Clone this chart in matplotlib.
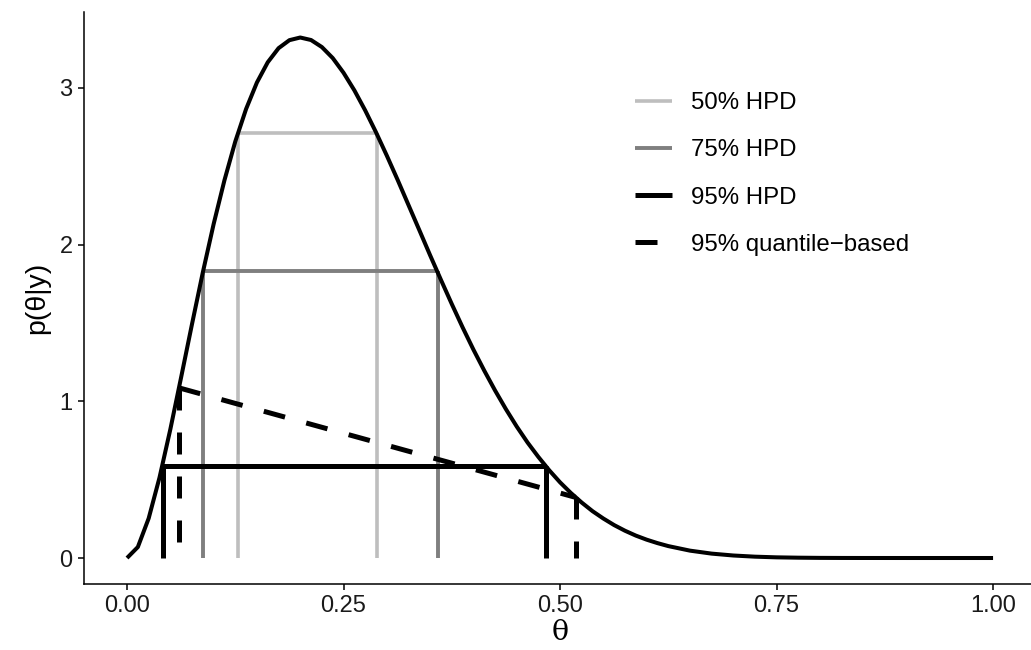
import matplotlib
matplotlib.use("Agg")
import matplotlib.pyplot as plt
from matplotlib.lines import Line2D

# posterior density p(theta|y) read at a grid of theta values
theta = [0.0, 0.0125, 0.025, 0.0375, 0.05, 0.0625, 0.075, 0.0875, 0.1,
         0.1125, 0.125, 0.1375, 0.15, 0.1625, 0.175, 0.1875, 0.2, 0.2125,
         0.225, 0.2375, 0.25, 0.2625, 0.275, 0.2875, 0.3, 0.3125, 0.325,
         0.3375, 0.35, 0.3625, 0.375, 0.3875, 0.4, 0.4125, 0.425, 0.4375,
         0.45, 0.4625, 0.475, 0.4875, 0.5, 0.5125, 0.525, 0.5375, 0.55,
         0.5625, 0.575, 0.5875, 0.6, 0.6125, 0.625, 0.65, 0.675, 0.7,
         0.725, 0.75, 0.775, 0.8, 0.825, 0.85, 0.9, 0.95, 1.0]
dens = [0.0, 0.070, 0.253, 0.513, 0.821, 1.154, 1.492, 1.822, 2.131,
        2.411, 2.658, 2.866, 3.035, 3.164, 3.254, 3.305, 3.322, 3.306,
        3.261, 3.191, 3.097, 2.985, 2.857, 2.717, 2.568, 2.413, 2.253,
        2.093, 1.932, 1.775, 1.621, 1.472, 1.330, 1.196, 1.069, 0.950,
        0.839, 0.737, 0.645, 0.560, 0.483, 0.415, 0.354, 0.299, 0.252,
        0.210, 0.174, 0.143, 0.117, 0.095, 0.076, 0.047, 0.028, 0.016,
        0.0085, 0.0042, 0.002, 0.0008, 0.0003, 0.0001, 0.0, 0.0, 0.0]

# HPD intervals: (label, lower, upper, density level)
hpd_labels = ["50% HPD", "75% HPD", "95% HPD"]
hpd_lower = [0.128, 0.088, 0.042]
hpd_upper = [0.289, 0.359, 0.484]
hpd_level = [2.71, 1.83, 0.59]

# 95% equal-tailed interval and density at its ends
q_lower, q_upper = 0.060, 0.518
q_dens_lower, q_dens_upper = 1.086, 0.387

hpd_colors = ["#BEBEBE", "#7F7F7F", "black"]
hpd_widths = [2.6, 2.8, 3.6]
dash = (4.4, 4.4)

fig = plt.figure(figsize=(10.31, 6.5), dpi=100)
ax = fig.add_axes([0.0812, 0.1015, 0.924, 0.8808])

for lo, hi, lev, c, w in zip(hpd_lower, hpd_upper, hpd_level, hpd_colors, hpd_widths):
    ax.plot([lo, lo], [0, lev], color=c, lw=w, solid_capstyle="butt")
    ax.plot([hi, hi], [0, lev], color=c, lw=w, solid_capstyle="butt")
    ax.plot([lo, hi], [lev, lev], color=c, lw=w, solid_capstyle="butt")

for x0, y0 in [(q_lower, q_dens_lower), (q_upper, q_dens_upper)]:
    ax.plot([x0, x0], [y0, 0], color="black", lw=3.6, dashes=dash,
            dash_capstyle="butt")
ax.plot([q_lower, q_upper], [q_dens_lower, q_dens_upper], color="black",
        lw=3.6, dashes=dash, dash_capstyle="butt")

ax.plot(theta, dens, color="black", lw=2.9, solid_capstyle="butt",
        solid_joinstyle="round", zorder=5)

ax.set_xlim(-0.05, 1.05)
ax.set_ylim(-0.1661, 3.488)
ax.set_xticks([0, 0.25, 0.5, 0.75, 1.0])
ax.set_xticklabels(["0.00", "0.25", "0.50", "0.75", "1.00"])
ax.set_yticks([0, 1, 2, 3])

for s in ["top", "right"]:
    ax.spines[s].set_visible(False)
for s in ["left", "bottom"]:
    ax.spines[s].set_linewidth(1.1)
ax.tick_params(length=4, width=1.1, labelsize=17, colors="black",
               labelcolor="#1a1a1a", pad=4)
for lab in ax.get_xticklabels() + ax.get_yticklabels():
    lab.set_family("Liberation Sans")

ax.set_xlabel("θ", fontsize=20.5, family="DejaVu Serif", labelpad=1)
ax.set_ylabel("p(θ|y)", fontsize=20.5, family="Liberation Sans", labelpad=7)

handles = [Line2D([], [], color=c, lw=w, solid_capstyle="butt")
           for c, w in zip(hpd_colors, hpd_widths)]
handles.append(Line2D([], [], color="black", lw=3.6, dashes=dash,
                      dash_capstyle="butt"))
labels = hpd_labels + ["95% quantile\u2212based"]
ax.legend(handles, labels, loc="upper left", bbox_to_anchor=(0.556, 0.897),
          frameon=False, handlelength=1.54, handletextpad=0.79,
          labelspacing=1.05, prop={"family": "Liberation Sans", "size": 17.3})

fig.savefig("out.png", dpi=100)
